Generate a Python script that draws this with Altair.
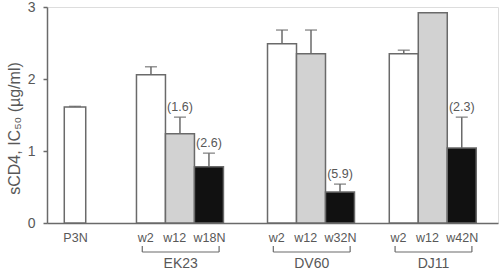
import altair as alt
import pandas as pd

# ---- data ----
bar_labels = ["P3N", "w2", "w12", "w18N", "w2", "w12", "w32N", "w2", "w12", "w42N"]
groups = ["P3N", "EK23", "EK23", "EK23", "DV60", "DV60", "DV60", "DJ11", "DJ11", "DJ11"]
kinds = ["open", "open", "gray", "black", "open", "gray", "black", "open", "gray", "black"]
values = [1.61, 2.06, 1.24, 0.78, 2.49, 2.35, 0.43, 2.35, 2.92, 1.04]
errors = [0.01, 0.11, 0.23, 0.19, 0.19, 0.33, 0.11, 0.05, 0.0, 0.43]
notes = ["", "", "(1.6)", "(2.6)", "", "", "(5.9)", "", "", "(2.3)"]
bracket_groups = ["EK23", "DV60", "DJ11"]

# ---- layout (slot positions along a continuous x scale) ----
group_gap = {"P3N": 0.0, "EK23": 2.62, "DV60": 7.14, "DJ11": 11.34}
pos = []
label_pos = []
counter = {}
for g in groups:
    i = counter.get(g, 0)
    pos.append(group_gap[g] + i)
    counter[g] = i + 1
for g, p in zip(groups, pos):
    last = p == group_gap[g] + counter[g] - 1
    label_pos.append(p if last else p - 0.2)
half = [0.37 if g == "P3N" else 0.5 for g in groups]

df = pd.DataFrame({
    "label": bar_labels, "group": groups, "kind": kinds,
    "value": values, "err": errors, "note": notes, "pos": pos,
})
df["x0"] = df["pos"] - pd.Series(half)
df["x1"] = df["pos"] + pd.Series(half)
df["top"] = df["value"] + df["err"]

br = df[df["group"].isin(bracket_groups)].groupby("group", sort=False).agg(
    start=("pos", "min"), end=("pos", "max")).reset_index()
br["b0"] = br["start"] - 0.3
br["b1"] = br["end"] + 0.35
br["mid"] = (br["b0"] + br["b1"]) / 2

GRAY = "#6a6a6a"
TXT = "#585858"
FONT = "Liberation Sans"

xscale = alt.Scale(domain=[-0.966, 14.59], nice=False, zero=False)
yscale = alt.Scale(domain=[0, 3], nice=False)

label_map = "{" + ", ".join(f"'{p:.2f}': '{l}'" for p, l in zip(label_pos, bar_labels)) + "}"

base = alt.Chart(df)

bars = base.mark_bar(stroke=GRAY, strokeWidth=1.5).encode(
    x=alt.X("x0:Q", scale=xscale, axis=alt.Axis(
        values=label_pos, ticks=False, grid=False, title=None, labelOverlap=False,
        labelExpr=label_map + "[format(datum.value, '.2f')]",
        labelFontSize=12.5, labelColor=TXT, labelFont=FONT, labelPadding=8,
        domainColor=GRAY, domainWidth=1.5)),
    x2="x1:Q",
    y=alt.Y("value:Q", scale=yscale, axis=alt.Axis(
        values=[0, 1, 2, 3], format="d", grid=False,
        title="sCD4, IC₅₀ (µg/ml)", titleFont=FONT, titleFontSize=16,
        titleFontWeight="normal", titleColor=TXT, titleAngle=-90,
        titleX=-33, titleY=121, titleBaseline="middle", titleAlign="center",
        labelFontSize=14, labelColor=TXT, labelFont=FONT, labelPadding=8,
        tickSize=4, tickColor=GRAY, tickWidth=1.5,
        domainColor=GRAY, domainWidth=1.5)),
    y2=alt.datum(0),
    fill=alt.Fill("kind:N", scale=alt.Scale(
        domain=["open", "gray", "black"], range=["#ffffff", "#d2d2d2", "#111111"]),
        legend=None),
)

err_df = df[df["err"] > 0]
whisker = alt.Chart(err_df).mark_rule(color=GRAY, strokeWidth=1.5).encode(
    x=alt.X("pos:Q", scale=xscale), y=alt.Y("value:Q", scale=yscale), y2="top:Q")
caps = alt.Chart(err_df).mark_tick(color=GRAY, thickness=1.5, size=12, orient="horizontal").encode(
    x=alt.X("pos:Q", scale=xscale), y=alt.Y("top:Q", scale=yscale))

notes_chart = alt.Chart(df[df["note"] != ""]).mark_text(
    baseline="bottom", dy=-3, fontSize=12.5, color=TXT, font=FONT).encode(
    x=alt.X("pos:Q", scale=xscale), y=alt.Y("top:Q", scale=yscale), text="note:N")

br_h = alt.Chart(br).mark_rule(color=GRAY, strokeWidth=1.2).encode(
    x=alt.X("b0:Q", scale=xscale), x2="b1:Q", y=alt.value(245))
br_l = alt.Chart(br).mark_rule(color=GRAY, strokeWidth=1.2).encode(
    x=alt.X("b0:Q", scale=xscale), y=alt.value(239), y2=alt.value(245))
br_r = alt.Chart(br).mark_rule(color=GRAY, strokeWidth=1.2).encode(
    x=alt.X("b1:Q", scale=xscale), y=alt.value(239), y2=alt.value(245))
br_t = alt.Chart(br).mark_text(baseline="alphabetic", fontSize=14, color=TXT, font=FONT).encode(
    x=alt.X("mid:Q", scale=xscale), y=alt.value(261), text="group:N")

chart = alt.layer(bars, whisker, caps, notes_chart, br_h, br_l, br_r, br_t).properties(
    width=451, height=216,
    padding={"left": 47, "top": 7, "right": 2, "bottom": 49},
    autosize=alt.AutoSizeParams(type="none"),
).configure_view(stroke=None).configure(background="white")

chart.save("out.html", embed_options={"renderer": "svg", "actions": False})
